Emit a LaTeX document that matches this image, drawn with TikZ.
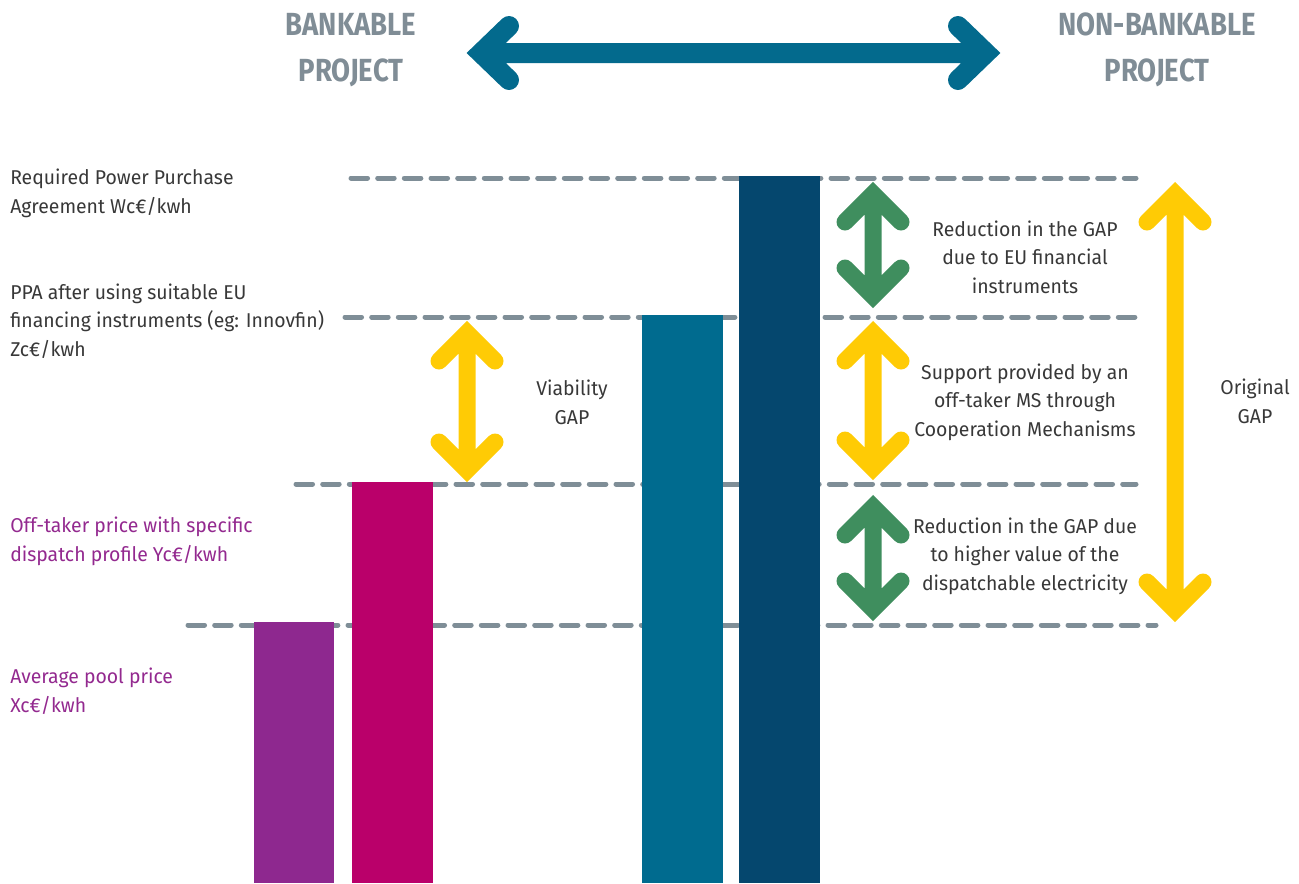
\documentclass[tikz,border=0pt]{standalone}
\usepackage{fontspec}
\setmainfont{Fira Sans}[FakeStretch=0.97]
\newfontfamily\titlefont{Fira Sans}[FakeStretch=0.86]
\usetikzlibrary{calc}

\definecolor{lvgrey}{HTML}{7F8E97}
\definecolor{titlegrey}{HTML}{808D96}
\definecolor{txtdark}{HTML}{383838}
\definecolor{pricepurple}{HTML}{93298F}
\definecolor{barpurple}{HTML}{8E288F}
\definecolor{barmagenta}{HTML}{BA006A}
\definecolor{barteal}{HTML}{006B8F}
\definecolor{barnavy}{HTML}{05476E}
\definecolor{arrowteal}{HTML}{036A8D}
\definecolor{gapyellow}{HTML}{FFCB05}
\definecolor{gapgreen}{HTML}{3F8E5E}

\begin{document}
\begin{tikzpicture}[x=0.75pt,y=-0.75pt,
  levelline/.style={draw=lvgrey,line width=3.75pt,line cap=round,dash pattern=on 12.4pt off 7.6pt},
  gaparrow/.style={draw=#1,line width=12.75pt,line cap=round,line join=miter},
  sidetext/.style={anchor=west,align=left,inner sep=0pt,text=txtdark,font=\fontsize{15pt}{21.5pt}\selectfont},
  pricetext/.style={sidetext,text=pricepurple},
  gaptext/.style={align=center,inner sep=0pt,text=txtdark,font=\fontsize{15pt}{21.5pt}\selectfont},
  titletext/.style={align=center,inner sep=0pt,text=titlegrey,font=\titlefont\bfseries\fontsize{24pt}{34.5pt}\selectfont}]
\useasboundingbox (0,0) rectangle (1299,883);

% price levels
\coordinate (lvWa) at (351,178); \coordinate (lvWb) at (1136,178);
\coordinate (lvZa) at (345,317); \coordinate (lvZb) at (1136,317);
\coordinate (lvYa) at (296,484); \coordinate (lvYb) at (1136,484);
\coordinate (lvXa) at (188,625); \coordinate (lvXb) at (1156,625);
\draw[levelline] (lvWa) -- (lvWb);
\draw[levelline] (lvZa) -- (lvZb);
\draw[levelline] (lvYa) -- (lvYb);
\draw[levelline] (lvXa) -- (lvXb);

% bars
\fill[barpurple] (254,622) rectangle (334,883);
\fill[barmagenta] (352,482) rectangle (433,883);
\fill[barteal] (642,315) rectangle (723,883);
\fill[barnavy] (739,176) rectangle (820,883);

% titles
\node[titletext] (bankable) at (351,50) {BANKABLE\\PROJECT};
\node[titletext] (nonbankable) at (1157,50) {NON-BANKABLE\\PROJECT};

\coordinate (bankL) at (467,53);
\coordinate (bankR) at (1000,53);
\draw[gaparrow=arrowteal,line width=15pt] ($(bankL)+(42,-27)$) -- ($(bankL)+(14,0)$) -- ($(bankL)+(42,27)$)
  ($(bankL)+(14,0)$) -- ($(bankR)+(-14,0)$)
  ($(bankR)+(-42,-27)$) -- ($(bankR)+(-14,0)$) -- ($(bankR)+(-42,27)$);

% gap arrows
\coordinate (viabT) at (467,321); \coordinate (viabB) at (467,482);
\coordinate (euT) at (873,182); \coordinate (euB) at (873,308);
\coordinate (msT) at (873,321); \coordinate (msB) at (873,480);
\coordinate (dispT) at (873,495); \coordinate (dispB) at (873,621);
\coordinate (origT) at (1175,182); \coordinate (origB) at (1175,622);

\draw[gaparrow=gapyellow] ($(viabT)+(-28,40)$) -- ($(viabT)+(0,12)$) -- ($(viabT)+(28,40)$)
  ($(viabT)+(0,12)$) -- ($(viabB)+(0,-12)$)
  ($(viabB)+(-28,-40)$) -- ($(viabB)+(0,-12)$) -- ($(viabB)+(28,-40)$);
\draw[gaparrow=gapgreen] ($(euT)+(-28,40)$) -- ($(euT)+(0,12)$) -- ($(euT)+(28,40)$)
  ($(euT)+(0,12)$) -- ($(euB)+(0,-12)$)
  ($(euB)+(-28,-40)$) -- ($(euB)+(0,-12)$) -- ($(euB)+(28,-40)$);
\draw[gaparrow=gapyellow] ($(msT)+(-28,40)$) -- ($(msT)+(0,12)$) -- ($(msT)+(28,40)$)
  ($(msT)+(0,12)$) -- ($(msB)+(0,-12)$)
  ($(msB)+(-28,-40)$) -- ($(msB)+(0,-12)$) -- ($(msB)+(28,-40)$);
\draw[gaparrow=gapgreen] ($(dispT)+(-28,40)$) -- ($(dispT)+(0,12)$) -- ($(dispT)+(28,40)$)
  ($(dispT)+(0,12)$) -- ($(dispB)+(0,-12)$)
  ($(dispB)+(-28,-40)$) -- ($(dispB)+(0,-12)$) -- ($(dispB)+(28,-40)$);
\draw[gaparrow=gapyellow] ($(origT)+(-28,40)$) -- ($(origT)+(0,12)$) -- ($(origT)+(28,40)$)
  ($(origT)+(0,12)$) -- ($(origB)+(0,-12)$)
  ($(origB)+(-28,-40)$) -- ($(origB)+(0,-12)$) -- ($(origB)+(28,-40)$);

% texts
\node[sidetext] (reqppa) at (10,193) {Required Power Purchase\\Agreement Wc€/kwh};
\node[sidetext] (euppa) at (10,321) {PPA after using suitable EU\\financing instruments (eg: Innovfin)\\Zc€/kwh};
\node[pricetext] (offtaker) at (10,541) {Off-taker price with specific\\dispatch profile Yc€/kwh};
\node[pricetext] (poolprice) at (10,691) {Average pool price\\Xc€/kwh};
\node[gaptext] (viabgap) at (572,402) {Viability\\GAP};
\node[gaptext] (eugap) at (1025,257) {Reduction in the GAP\\due to EU financial\\instruments};
\node[gaptext] (msgap) at (1025,402) {Support provided by an\\off-taker MS through\\Cooperation Mechanisms};
\node[gaptext] (dispgap) at (1025,556) {Reduction in the GAP due\\to higher value of the\\dispatchable electricity};
\node[gaptext] (origgap) at (1255,401) {Original\\GAP};
\end{tikzpicture}
\end{document}
